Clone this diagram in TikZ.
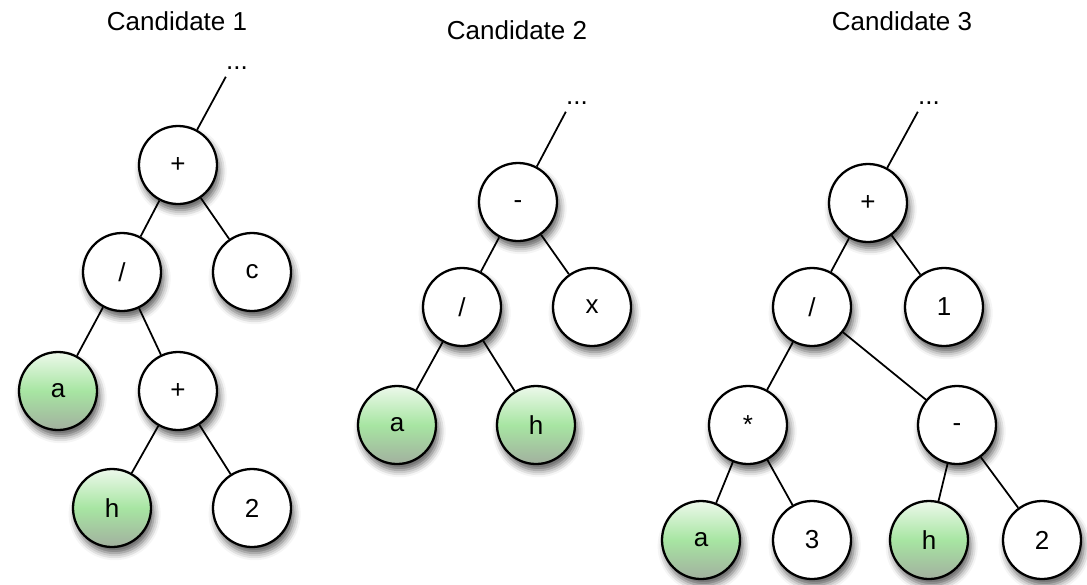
\documentclass[tikz,border=0pt]{standalone}
\usepackage{fontspec}
\setmainfont{Liberation Sans}
\usetikzlibrary{positioning, shadows.blur}
\definecolor{leaftop}{HTML}{EDF9EB}
\definecolor{leafmid}{HTML}{A7E5A2}
\definecolor{leafbot}{HTML}{A2B09F}
\newcommand{\minussign}{\raisebox{0pt}[0.53em][0pt]{-}}
\tikzset{
  opnode/.style={circle, draw, line width=1.3pt, minimum size=1.56cm, inner sep=0pt, fill=white,
    blur shadow={shadow xshift=1.5pt, shadow yshift=-3.5pt, shadow blur radius=4pt, shadow opacity=65}},
  leafnode/.style={opnode, top color=leaftop, bottom color=leafbot, middle color=leafmid},
  cont/.style={inner xsep=0pt, inner ysep=4pt},
  heading/.style={inner sep=0pt},
  link/.style={line width=1pt},
}

\begin{document}
\begin{tikzpicture}[on grid, font=\fontsize{14.8}{18}\selectfont]
  \useasboundingbox (0,0) rectangle (21.74,-11.68);

  \node[heading] (cand1) at (3.54,-0.42) {Candidate 1};
  \node[cont] (more1) at (4.74,-1.36) {...};
  \node[opnode] (plus1) at (3.56,-3.30) {+};
  \node[opnode, below left=2.14cm and 1.12cm of plus1] (div1) {/};
  \node[opnode, below right=2.14cm and 1.48cm of plus1] (varc1) {c};
  \node[leafnode, below left=2.38cm and 1.28cm of div1] (vara1) {a};
  \node[opnode, below right=2.38cm and 1.12cm of div1] (plus1b) {+};
  \node[leafnode, below left=2.34cm and 1.32cm of plus1b] (varh1) {h};
  \node[opnode, below right=2.34cm and 1.48cm of plus1b] (two1) {2};

  \node[heading] (cand2) at (10.34,-0.60) {Candidate 2};
  \node[cont] (more2) at (11.54,-2.06) {...};
  \node[opnode] (minus2) at (10.36,-4.04) {\minussign};
  \node[opnode, below left=2.10cm and 1.12cm of minus2] (div2) {/};
  \node[opnode, below right=2.10cm and 1.48cm of minus2] (varx2) {x};
  \node[leafnode, below left=2.36cm and 1.30cm of div2] (vara2) {a};
  \node[leafnode, below right=2.36cm and 1.48cm of div2] (varh2) {h};

  \node[heading] (cand3) at (18.04,-0.42) {Candidate 3};
  \node[cont] (more3) at (18.58,-2.06) {...};
  \node[opnode] (plus3) at (17.36,-4.06) {+};
  \node[opnode, below left=2.08cm and 1.12cm of plus3] (div3) {/};
  \node[opnode, below right=2.08cm and 1.52cm of plus3] (one3) {1};
  \node[opnode, below left=2.36cm and 1.28cm of div3] (times3) {*};
  \node[opnode, below right=2.36cm and 2.90cm of div3] (minus3) {\minussign};
  \node[leafnode, below left=2.30cm and 0.94cm of times3] (vara3) {a};
  \node[opnode, below right=2.30cm and 1.28cm of times3] (three3) {3};
  \node[leafnode, below left=2.30cm and 0.56cm of minus3] (varh3) {h};
  \node[opnode, below right=2.30cm and 1.70cm of minus3] (two3) {2};

  \draw[link] (plus1) -- (more1.south west);
  \draw[link] (plus1) -- (div1);
  \draw[link] (plus1) -- (varc1);
  \draw[link] (div1) -- (vara1);
  \draw[link] (div1) -- (plus1b);
  \draw[link] (plus1b) -- (varh1);
  \draw[link] (plus1b) -- (two1);

  \draw[link] (minus2) -- (more2.south west);
  \draw[link] (minus2) -- (div2);
  \draw[link] (minus2) -- (varx2);
  \draw[link] (div2) -- (vara2);
  \draw[link] (div2) -- (varh2);

  \draw[link] (plus3) -- (more3.south west);
  \draw[link] (plus3) -- (div3);
  \draw[link] (plus3) -- (one3);
  \draw[link] (div3) -- (times3);
  \draw[link] (div3) -- (minus3);
  \draw[link] (times3) -- (vara3);
  \draw[link] (times3) -- (three3);
  \draw[link] (minus3) -- (varh3);
  \draw[link] (minus3) -- (two3);
\end{tikzpicture}
\end{document}
